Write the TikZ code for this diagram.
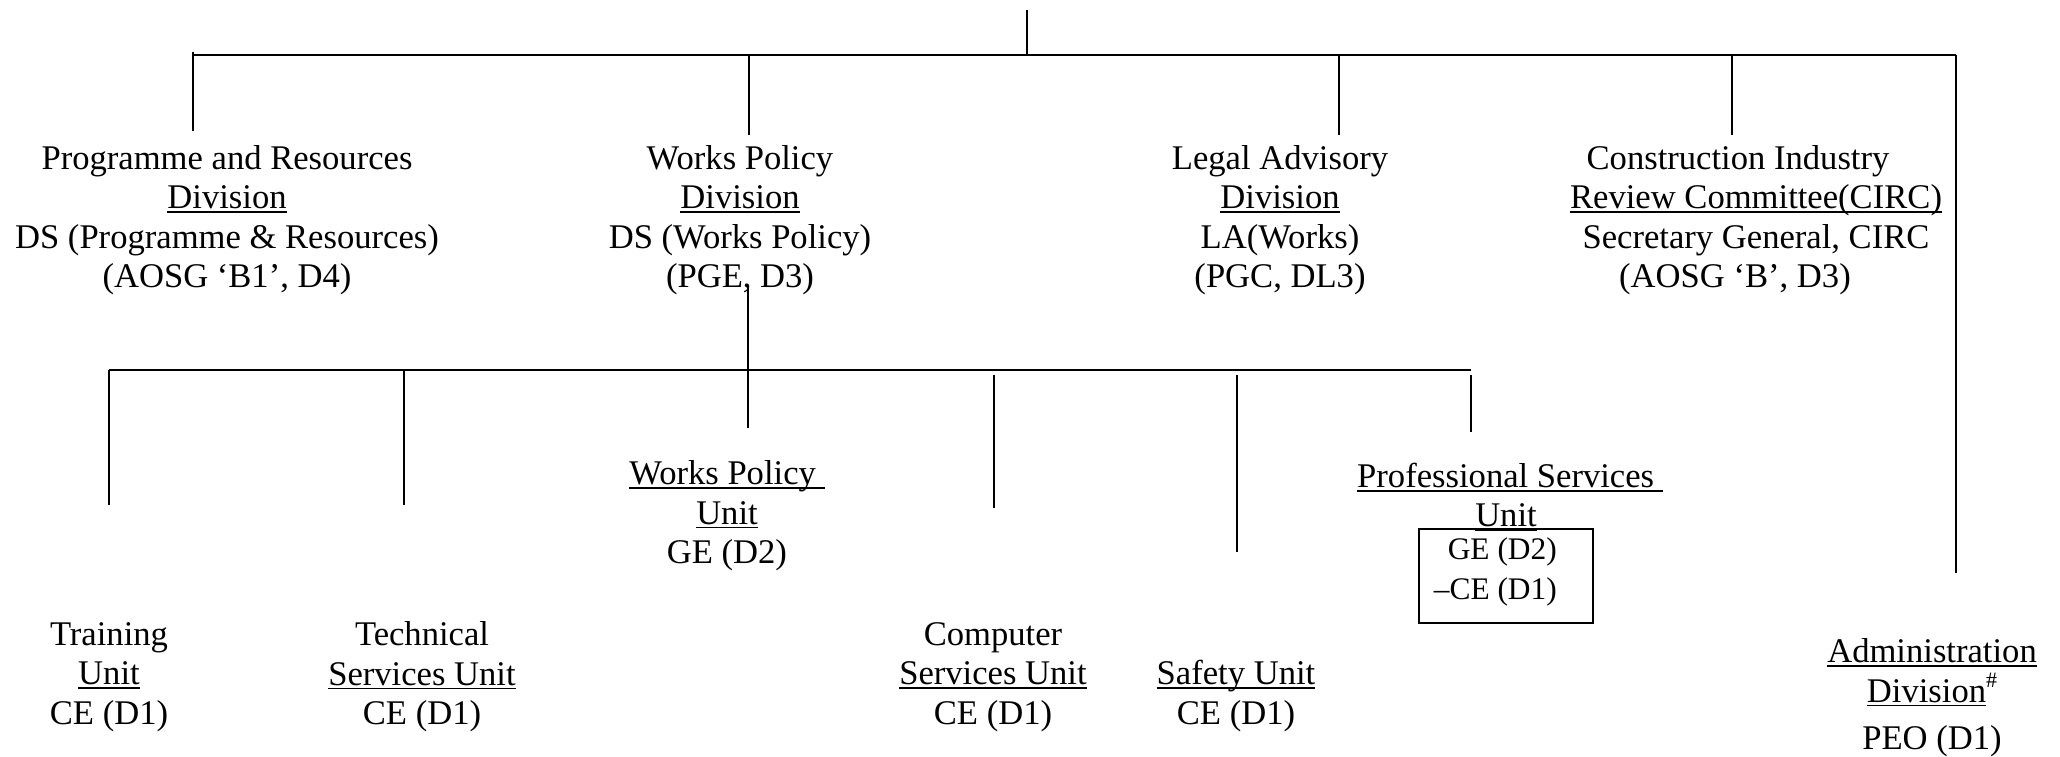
\documentclass[tikz,border=0pt]{standalone}
\usepackage{fontspec}
\setmainfont{Liberation Serif}
\newcommand\myul[1]{\setbox0\hbox{#1}\rlap{\rule[-0.12em]{\wd0}{0.055em}}\box0}
\newcommand\hashsup{\raisebox{0.42em}{\fontsize{22}{22}\selectfont\#}}
\begin{document}
\begin{tikzpicture}[x=1pt,y=-1pt,
  vline/.style={line width=2pt},
  hbar/.style={line width=2.8pt},
  lbl/.style={align=center,inner sep=0pt,font=\fontsize{34.6}{39.4}\selectfont},
  boxtxt/.style={align=right,inner sep=0pt,font=\fontsize{31.4}{39.6}\selectfont},
  boxnode/.style={draw,line width=2pt,minimum width=174pt,minimum height=94pt,inner sep=0pt}]
\useasboundingbox (0,0) rectangle (2060,757);
% top level labels
\node[lbl] (pr) at (227,220) {Programme and Resources\\\myul{Division}\\DS (Programme \& Resources)\\(AOSG `B1', D4)};
\node[lbl] (wp) at (740,220) {Works Policy\\\myul{Division}\\DS (Works Policy)\\(PGE, D3)};
\node[lbl] (la) at (1280,220) {Legal Advisory\\\myul{Division}\\LA(Works)\\(PGC, DL3)};
\node[lbl] (circ) at (1756,220) {Construction Industry\hspace*{36pt}\\\myul{Review Committee(CIRC)}\\Secretary General, CIRC\hspace*{26pt}\\(AOSG `B', D3)\hspace*{42pt}};
% second level labels
\node[lbl] (wpu) at (727,516) {\myul{Works Policy\ }\\\myul{Unit}\\GE (D2)};
\node[lbl] (psu) at (1506,497) {\hspace*{8pt}\myul{Professional Services\ }\\\myul{Unit}};
\node[boxnode] (psbox) at (1506,575.5) {};
\node[boxtxt,anchor=east] (psboxt) at (1557,572) {GE (D2)\\--CE (D1)};
\node[lbl] (tr) at (109,677) {Training\\\myul{Unit}\\CE (D1)};
\node[lbl] (ts) at (422,677) {Technical\\\myul{Services Unit}\\CE (D1)};
\node[lbl] (cs) at (993,677) {Computer\\\myul{Services Unit}\\CE (D1)};
\node[lbl] (su) at (1236,696) {\myul{Safety Unit}\\CE (D1)};
\node[lbl] (ad) at (1932,698) {\myul{Administration}\\\myul{Division}\hashsup\\[8pt]PEO (D1)};
% connector coordinates
\coordinate (root) at (1027,10);
\coordinate (rootj) at (1027,55);
\coordinate (barL) at (193,55);
\coordinate (barR) at (1956,55);
\coordinate (prT) at (193,52);  \coordinate (prB) at (193,131);
\coordinate (wpT) at (749,55);  \coordinate (wpB) at (749,135);
\coordinate (laT) at (1339,55); \coordinate (laB) at (1339,135);
\coordinate (ciT) at (1732,55); \coordinate (ciB) at (1732,135);
\coordinate (adB) at (1956,573);
\coordinate (wpD) at (748,286); \coordinate (wpJ) at (748,370);
\coordinate (bar2L) at (109,370); \coordinate (bar2R) at (1471,370);
\coordinate (trB) at (109,505);
\coordinate (tsT) at (404,370); \coordinate (tsB) at (404,505);
\coordinate (wpuB) at (748,428);
\coordinate (csT) at (994,375); \coordinate (csB) at (994,508);
\coordinate (suT) at (1237,375); \coordinate (suB) at (1237,552);
\coordinate (psT) at (1471,375); \coordinate (psB) at (1471,432);
% connectors
\draw[vline] (root) -- (rootj);
\draw[hbar] (barL) -- (barR);
\draw[vline] (prT) -- (prB);
\draw[vline] (wpT) -- (wpB);
\draw[vline] (laT) -- (laB);
\draw[vline] (ciT) -- (ciB);
\draw[vline] (barR) -- (adB);
\draw[vline] (wpD) -- (wpJ);
\draw[hbar] (bar2L) -- (bar2R);
\draw[vline] (bar2L) -- (trB);
\draw[vline] (tsT) -- (tsB);
\draw[vline] (wpJ) -- (wpuB);
\draw[vline] (csT) -- (csB);
\draw[vline] (suT) -- (suB);
\draw[vline] (psT) -- (psB);
\end{tikzpicture}
\end{document}
